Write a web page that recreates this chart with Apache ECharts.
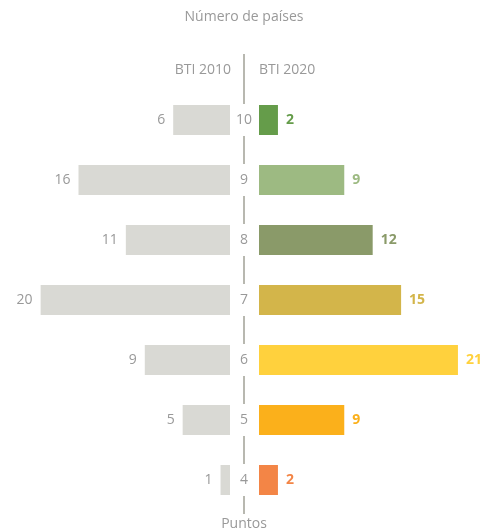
<!DOCTYPE html>
<html><head><meta charset="utf-8">
<script src="https://cdn.jsdelivr.net/npm/echarts@6/dist/echarts.min.js"></script>
<style>html,body{margin:0;padding:0;background:#fff}#c{width:493px;height:531px}</style>
</head><body><div id="c"></div>
<script>
const categories = ['10','9','8','7','6','5','4'];
const bti2010 = [6,16,11,20,9,5,1];
const bti2020 = [2,9,12,15,21,9,2];
const colors2020 = ['#659c4a','#9dba82','#8a9a69','#d3b54a','#ffd13d','#fbb01b','#f38546'];
const seriesNames = ['BTI 2010','BTI 2020'];
const FONT = 'Open Sans';
const chart = echarts.init(document.getElementById('c'));
chart.setOption({
  animation:false,
  textStyle:{fontFamily:FONT},
  grid:[
    {left:0, right:263, top:90, height:420},
    {left:259, right:0, top:90, height:420}
  ],
  xAxis:[
    {gridIndex:0, type:'value', inverse:true, min:0, max:24.29, show:false},
    {gridIndex:1, type:'value', min:0, max:24.7, show:false}
  ],
  yAxis:[
    {gridIndex:0, type:'category', data:categories, inverse:true, position:'right', offset:14, z:10,
     axisLine:{show:false}, axisTick:{show:false}, splitLine:{show:false},
     axisLabel:{align:'center', margin:0, color:'#999', fontSize:14, fontFamily:FONT,
       backgroundColor:'#fff', padding:[9,3]}},
    {gridIndex:1, type:'category', data:categories, inverse:true, show:false}
  ],
  graphic:[
    {type:'line', z:0, shape:{x1:244,y1:54,x2:244,y2:514}, style:{stroke:'#b8b8b0', lineWidth:2}},
    {type:'text', x:244, y:17, style:{text:'Número de países', fill:'#999', font:'14px "Open Sans"', align:'center', verticalAlign:'middle'}},
    {type:'text', x:231, y:70, style:{text:seriesNames[0], fill:'#999', font:'14px "Open Sans"', align:'right', verticalAlign:'middle'}},
    {type:'text', x:259, y:70, style:{text:seriesNames[1], fill:'#999', font:'14px "Open Sans"', align:'left', verticalAlign:'middle'}},
    {type:'text', x:244, y:524, style:{text:'Puntos', fill:'#999', font:'14px "Open Sans"', align:'center', verticalAlign:'middle'}}
  ],
  series:[
    {name:seriesNames[0], type:'bar', xAxisIndex:0, yAxisIndex:0, data:bti2010, barWidth:30,
     itemStyle:{color:'#d9d9d4'},
     label:{show:true, position:'left', distance:8, color:'#999', fontSize:14, fontFamily:FONT}},
    {name:seriesNames[1], type:'bar', xAxisIndex:1, yAxisIndex:1, barWidth:30,
     data:bti2020.map((v,i)=>({value:v, itemStyle:{color:colors2020[i]}, label:{color:colors2020[i]}})),
     label:{show:true, position:'right', distance:8, fontWeight:'bold', fontSize:14, fontFamily:FONT}}
  ]
});
</script></body></html>
